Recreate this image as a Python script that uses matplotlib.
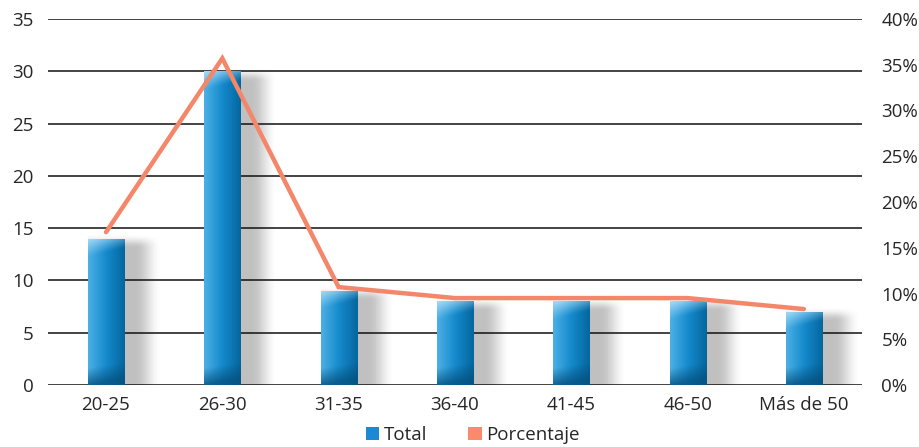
import numpy as np
import matplotlib
matplotlib.use("Agg")
import matplotlib.pyplot as plt
from matplotlib.ticker import FuncFormatter
from matplotlib.patches import Patch

plt.rcParams["font.family"] = ["Open Sans", "DejaVu Sans"]
plt.rcParams["font.size"] = 13.5

categories = ["20-25", "26-30", "31-35", "36-40", "41-45", "46-50", "Más de 50"]
totals = [14, 30, 9, 8, 8, 8, 7]
percent = [16.7, 35.7, 10.7, 9.5, 9.5, 9.5, 8.3]

TEXT = "#262626"
BLUE = "#1a8ad4"
SALMON = "#f4866a"

fig = plt.figure(figsize=(9.2, 4.47), dpi=100)
ax = fig.add_axes([0.052, 0.1387, 0.885, 0.8188])

xpos = np.arange(len(categories))
bw = 0.31


def lerp(c1, c2, w):
    w = w[..., None]
    return c1 * (1 - w) + c2 * w


def bar_gradient(h, rows=400, cols=80):
    u = np.linspace(0, 1, cols)[None, :].repeat(rows, 0)
    v = np.linspace(h, 0, rows)[:, None].repeat(cols, 1)
    c_left = np.array([0.30, 0.69, 0.90])
    c_mid = np.array([0.08, 0.54, 0.80])
    c_right = np.array([0.02, 0.40, 0.62])
    w1 = np.clip(u / 0.5, 0, 1)
    w2 = np.clip((u - 0.5) / 0.5, 0, 1)
    img = lerp(lerp(c_left, c_mid, w1), c_right, w2)
    # soft highlight across the top, strongest at the upper left
    d = (h - v) + 0.9 * u
    t = np.clip(1 - d / 1.8, 0, 1) ** 1.2
    img = lerp(img, np.array([0.68, 0.87, 0.97]), t * 0.95)
    # darker band at the base
    b = np.clip(1 - (v - 0.6 * u) / 1.6, 0, 1)
    img = lerp(img, np.array([0.02, 0.32, 0.50]), b * 0.8)
    return img


def shadow_image(c, h, rows=200, cols=120):
    x0, x1 = c - bw / 2, c + bw / 2 + 0.36
    y0, y1 = 0, h + 0.5
    xx = np.linspace(x0, x1, cols)[None, :].repeat(rows, 0)
    yy = np.linspace(y1, y0, rows)[:, None].repeat(cols, 1)
    r = xx - (c + bw / 2)
    fx = np.clip(1 - (r - 0.10) / 0.22, 0, 1)
    fx = fx * fx * (3 - 2 * fx)
    fy = np.clip((h + 0.4 - yy) / 1.3, 0, 1)
    fy = fy * fy * (3 - 2 * fy)
    rgba = np.zeros((rows, cols, 4))
    rgba[..., :3] = 0.42
    rgba[..., 3] = 0.42 * fx * fy
    return rgba, [x0, x1, y0, y1]


bars = ax.bar(xpos, totals, width=bw, color=BLUE, zorder=2, linewidth=0)

for c, h, patch in zip(xpos, totals, bars.patches):
    sh, ext = shadow_image(c, h)
    ax.imshow(sh, extent=ext, aspect="auto", zorder=0.2, interpolation="bilinear")
    im = ax.imshow(bar_gradient(h), extent=[c - bw / 2, c + bw / 2, 0, h],
                   aspect="auto", zorder=2.5, interpolation="bilinear")
    im.set_clip_path(patch)

ax.set_xlim(-0.5, len(categories) - 0.5)
ax.set_ylim(0, 35)
ax.set_yticks(np.arange(0, 36, 5))
ax.set_xticks(xpos)
ax.set_xticklabels(categories)
ax.set_axisbelow(True)
ax.yaxis.grid(True, color="#111111", linewidth=1.1, zorder=0.5)
ax.xaxis.grid(False)
for s in ax.spines.values():
    s.set_visible(False)
ax.tick_params(axis="y", length=0, pad=10, colors=TEXT)
ax.tick_params(axis="x", length=0, pad=8, colors=TEXT)

ax2 = ax.twinx()
ax2.set_ylim(0, 0.40)
ax2.set_yticks(np.arange(0, 0.401, 0.05))
ax2.yaxis.set_major_formatter(FuncFormatter(lambda v, p: f"{v * 100:.0f}%"))
ax2.tick_params(axis="y", length=0, pad=14, colors=TEXT)
for s in ax2.spines.values():
    s.set_visible(False)
ax2.plot(xpos, np.array(percent) / 100, color=SALMON, lw=3.2,
         solid_capstyle="round", solid_joinstyle="miter", zorder=5)

handles = [Patch(facecolor=BLUE, edgecolor="none"),
           Patch(facecolor="#fb8a6c", edgecolor="none")]
fig.legend(handles, ["Total", "Porcentaje"], loc="center",
           bbox_to_anchor=(0.514, 0.027), ncol=2, frameon=False,
           handlelength=0.7, handleheight=0.7, handletextpad=0.25,
           columnspacing=2.2, labelcolor=TEXT)

fig.savefig("out.png", dpi=100)
